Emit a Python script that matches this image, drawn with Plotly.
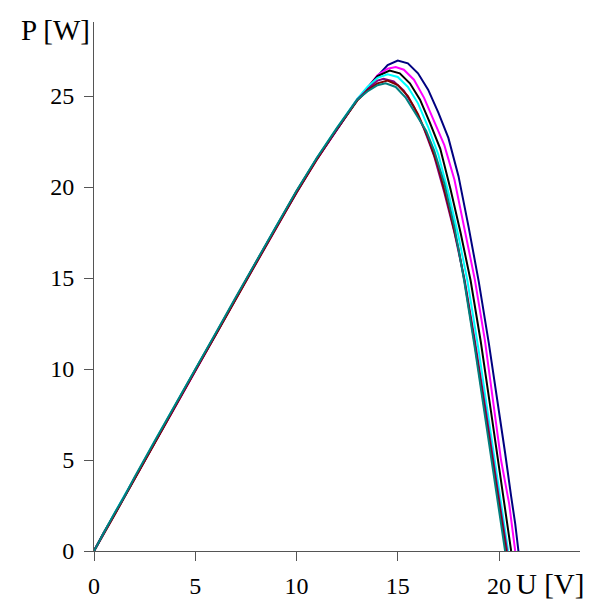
import plotly.graph_objects as go

# Rising part (common sampling)
u_rise = [0, 0.5, 1, 1.5, 2, 3, 4, 5, 6, 7, 8, 9, 10, 11, 12, 13]

navy_u = u_rise + [13.5, 14, 14.5, 15, 15.5, 16, 16.5, 17, 17.5, 18, 18.5, 19, 19.5, 20, 20.3, 20.6, 20.8, 20.96]
navy_p = [0, 1.05, 2.0, 3.0, 4.0, 6.0, 7.95, 9.95, 11.9, 13.9, 15.85, 17.8, 19.75, 21.55, 23.2, 24.8,
          25.4, 26.1, 26.7, 26.95, 26.8, 26.25, 25.35, 24.1, 22.7, 20.6, 17.8, 14.8, 11.4, 7.8, 5.4, 3.0, 1.5, 0]

magenta_u = u_rise + [13.5, 14, 14.5, 14.9, 15.3, 15.8, 16.3, 16.8, 17.3, 17.8, 18.3, 18.8, 19.3, 19.76, 20.1, 20.5, 20.8]
magenta_p = [0, 1.0, 1.95, 3.0, 3.95, 5.95, 7.9, 9.9, 11.85, 13.85, 15.8, 17.75, 19.7, 21.5, 23.15, 24.8,
             25.45, 26.15, 26.5, 26.6, 26.45, 25.9, 24.9, 23.6, 22.3, 20.4, 17.7, 14.95, 11.6, 7.8, 5.0, 2.6, 0]

black_u = u_rise + [13.5, 14, 14.6, 15.1, 15.6, 16.1, 16.6, 17.1, 17.6, 18.1, 18.6, 19.1, 19.6, 20.0, 20.3, 20.6]
black_p = [0, 1.05, 2.0, 3.0, 4.0, 6.0, 7.95, 9.95, 11.9, 13.9, 15.85, 17.8, 19.75, 21.55, 23.2, 24.8,
           25.45, 26.1, 26.4, 26.25, 25.7, 24.8, 23.5, 22.1, 19.9, 17.5, 14.85, 11.5, 7.7, 4.6, 2.4, 0]

cyan_u = u_rise + [13.5, 14, 14.5, 15, 15.5, 16, 16.5, 17, 17.5, 18, 18.44, 19, 19.43, 19.8, 20.1, 20.45]
cyan_p = [0, 1.05, 2.05, 3.05, 4.0, 6.05, 8.0, 9.95, 11.95, 13.9, 15.85, 17.85, 19.75, 21.6, 23.25, 24.85,
          25.5, 26.0, 26.2, 26.05, 25.5, 24.6, 23.3, 21.8, 19.7, 17.3, 14.85, 11.0, 7.7, 4.9, 2.7, 0]

purple_u = u_rise + [13.5, 14, 14.3, 14.8, 15.3, 15.8, 16.3, 16.8, 17.3, 17.8, 18.3, 18.8, 19.35, 19.7, 20.05, 20.4]
purple_p = [0, 1.0, 2.0, 3.0, 4.0, 6.0, 7.95, 9.9, 11.9, 13.85, 15.85, 17.8, 19.7, 21.55, 23.2, 24.8,
            25.35, 25.85, 25.95, 25.8, 25.3, 24.4, 23.2, 21.7, 19.7, 17.5, 14.9, 11.6, 7.7, 5.0, 2.5, 0]

darkred_u = u_rise + [13.5, 14, 14.5, 15, 15.5, 16, 16.5, 17, 17.5, 18, 18.3, 18.8, 19.3, 19.7, 20.0, 20.35]
darkred_p = [0, 0.95, 1.95, 2.95, 3.95, 5.95, 7.9, 9.9, 11.85, 13.85, 15.8, 17.75, 19.7, 21.5, 23.2, 24.75,
             25.3, 25.7, 25.85, 25.6, 25.0, 24.0, 22.7, 21.1, 19.0, 16.6, 14.8, 11.4, 7.7, 4.8, 2.6, 0]

teal_u = u_rise + [13.5, 14, 14.4, 14.9, 15.4, 15.9, 16.4, 16.8, 17.3, 17.8, 18.28, 18.8, 19.27, 19.7, 20.0, 20.3]
teal_p = [0, 1.05, 2.05, 3.0, 4.05, 6.05, 8.0, 10.0, 11.95, 13.95, 15.9, 17.85, 19.8, 21.6, 23.25, 24.8,
          25.25, 25.6, 25.7, 25.5, 24.9, 24.0, 23.1, 22.0, 20.2, 17.8, 14.85, 11.2, 7.7, 4.6, 2.5, 0]

series = [
    ("navy", navy_u, navy_p, "#000080"),
    ("magenta", magenta_u, magenta_p, "#FF00FF"),
    ("black", black_u, black_p, "#000000"),
    ("cyan", cyan_u, cyan_p, "#00FFFF"),
    ("purple", purple_u, purple_p, "#800080"),
    ("darkred", darkred_u, darkred_p, "#800000"),
    ("teal", teal_u, teal_p, "#008080"),
]

x_ticks = [0, 5, 10, 15, 20]
y_ticks = [0, 5, 10, 15, 20, 25]

fig = go.Figure()
for name, u, p, c in series:
    fig.add_trace(go.Scatter(x=u, y=p, mode="lines", name=name,
                             line=dict(color=c, width=2), showlegend=False))

font_family = "Liberation Serif"
axis_col = "#555555"

# page body has an 8px margin, so the figure is 591x591 and offset by 8px
fig.update_layout(
    width=591, height=591,
    margin=dict(l=86, r=19, t=14, b=48, autoexpand=False),
    paper_bgcolor="white", plot_bgcolor="white",
    font=dict(family=font_family, size=24, color="black"),
    xaxis=dict(range=[0, 24], tickvals=x_ticks, ticktext=[str(v) for v in x_ticks],
               showgrid=False, zeroline=False, showline=True, linecolor=axis_col, linewidth=1,
               ticks="outside", ticklen=9, tickcolor=axis_col, ticklabelstandoff=4,
               automargin=False, tickfont=dict(family=font_family, size=24)),
    yaxis=dict(range=[0, 29.07], tickvals=y_ticks, ticktext=[str(v) for v in y_ticks],
               showgrid=False, zeroline=False, showline=True, linecolor=axis_col, linewidth=1,
               ticks="outside", ticklen=9, tickcolor=axis_col, ticklabelstandoff=5,
               automargin=False, tickfont=dict(family=font_family, size=24)),
    annotations=[
        dict(text="P [W]", xref="paper", yref="paper", x=-0.005, y=0.985,
             xanchor="right", yanchor="middle", showarrow=False,
             font=dict(family=font_family, size=29, color="black")),
        dict(text="U [V]", xref="paper", yref="paper", x=0.865, y=-0.063,
             xanchor="left", yanchor="middle", showarrow=False,
             font=dict(family=font_family, size=29, color="black")),
    ],
)

fig.write_html("out.html")
